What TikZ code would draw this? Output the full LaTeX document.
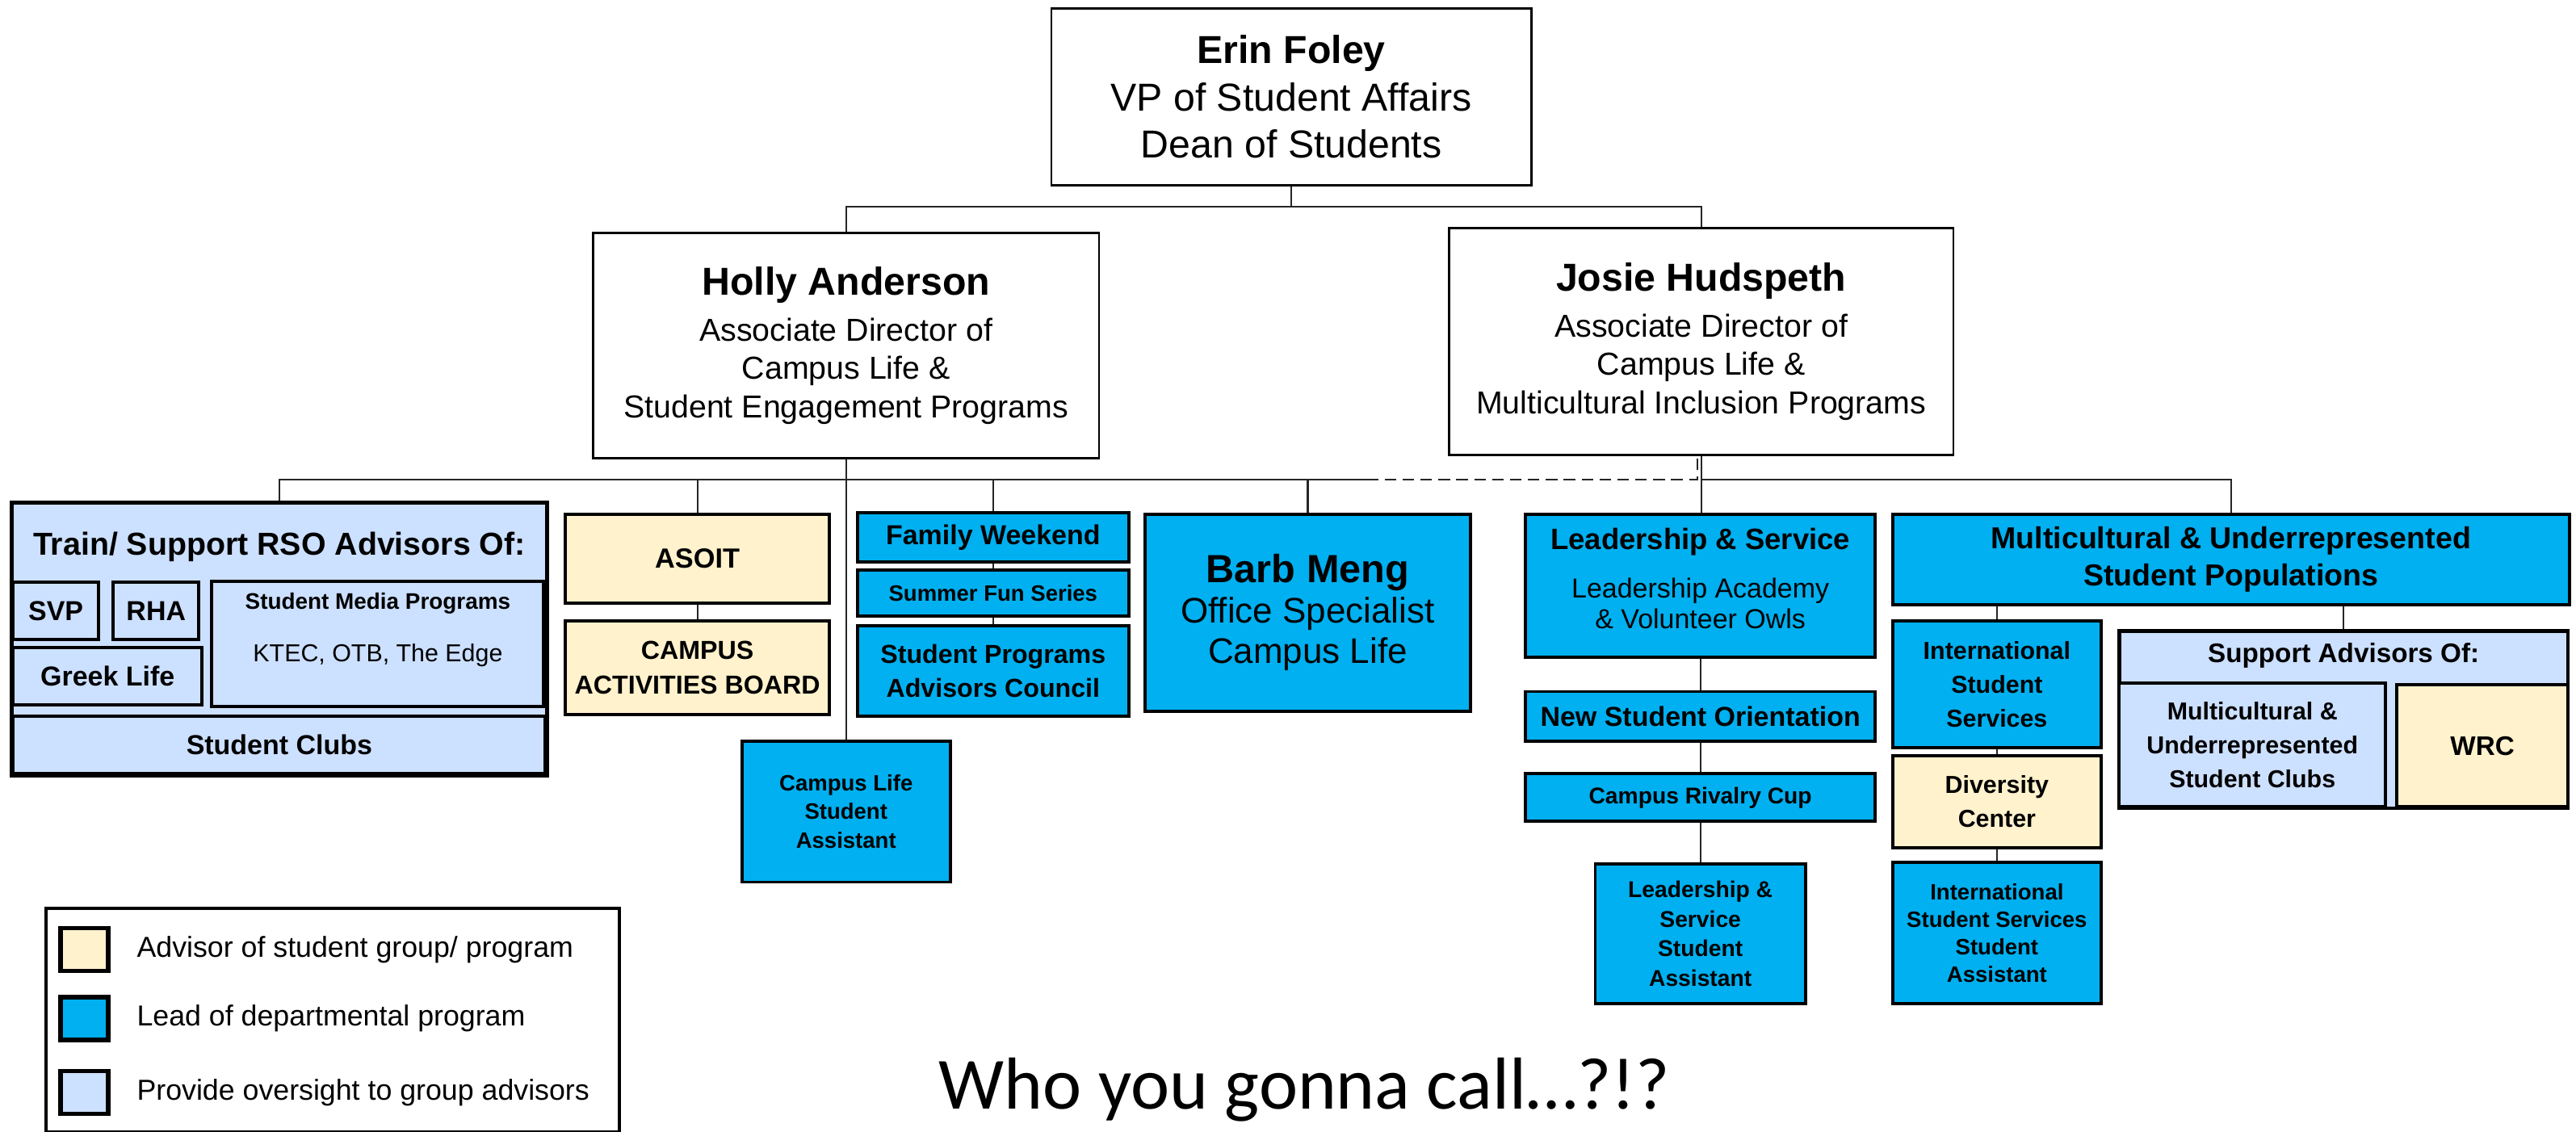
\documentclass[tikz,border=0pt]{standalone}
\usepackage{fontspec}
\setmainfont{Liberation Sans}
\newfontfamily\callfont{Carlito}
\usetikzlibrary{positioning, calc}
\definecolor{cblue}{HTML}{00B0F0}
\definecolor{cyellow}{HTML}{FFF2CC}
\definecolor{clight}{HTML}{CCE0FF}
\newcommand{\setfs}[2]{\fontsize{#1}{#2}\selectfont}

\begin{document}
\begin{tikzpicture}[
    x=0.02cm, y=-0.02cm,
    wh/.style 2 args={minimum width=#1*0.02cm, minimum height=#2*0.02cm},
    person/.style={draw=black, fill=white, line width=0.8pt, inner sep=0pt, align=center},
    lead/.style={draw=black, fill=cblue, line width=1.1pt, inner sep=0pt, align=center},
    advisor/.style={draw=black, fill=cyellow, line width=1.1pt, inner sep=0pt, align=center},
    oversee/.style={draw=black, fill=clight, line width=1.1pt, inner sep=0pt, align=center},
    swatch/.style={draw=black, line width=1.6pt, inner sep=0pt, wh={29}{26}},
    link/.style={draw=black!85, line width=0.6pt},
    dotrel/.style={link, dash pattern=on 4pt off 2.2pt}
]
\useasboundingbox (0,0) rectangle (1568,689);

%% Top of the chart
\node[person, wh={292}{108}, font=\setfs{13.5}{16.4}] (erin) at (786,59)
   {\textbf{Erin Foley}\\VP of Student Affairs\\Dean of Students};
\node[person, wh={308}{137}, font=\setfs{11}{13.3}] (holly) at (515,210.5)
   {{\setfs{13.5}{14}\bfseries Holly Anderson}\\[2.5pt]Associate Director of\\Campus Life \&\\Student Engagement Programs};
\node[person, wh={307}{138}, font=\setfs{11}{13.3}] (josie) at (1035.5,208)
   {{\setfs{13.5}{14}\bfseries Josie Hudspeth}\\[2.5pt]Associate Director of\\Campus Life \&\\Multicultural Inclusion Programs};

%% RSO advisors block
\node[oversee, wh={326}{166}, line width=1.3pt] (train) at (170,389) {};
\node[font=\setfs{11}{13}\bfseries] (traintitle) at (170,333) {Train/ Support RSO Advisors Of:};
\node[oversee, wh={52}{35}, font=\setfs{9.5}{11}\bfseries] (svp) at (34,372) {SVP};
\node[oversee, wh={52}{35}, font=\setfs{9.5}{11}\bfseries] (rha) at (95,372) {RHA};
\node[oversee, wh={115}{35}, font=\setfs{9.5}{11}\bfseries] (greek) at (65.5,411.5) {Greek Life};
\node[oversee, wh={202}{76}, text depth=11.5pt] (media) at (230,392)
   {{\setfs{7.8}{9}\bfseries Student Media Programs}\\[6pt]{\setfs{8.5}{10}KTEC, OTB, The Edge}};
\node[oversee, wh={324}{35}, font=\setfs{9.5}{11}\bfseries] (clubs) at (170,453.5) {Student Clubs};

%% Holly's programs
\node[advisor, wh={161}{54}, font=\setfs{9.6}{11}\bfseries] (asoit) at (424.5,340) {ASOIT};
\node[advisor, wh={161}{57}, font=\setfs{9}{11.9}\bfseries] (cab) at (424.5,406.5) {CAMPUS\\ACTIVITIES BOARD};
\node[lead, wh={165}{30}, font=\setfs{9.5}{11}\bfseries] (fw) at (604.5,327) {Family Weekend};
\node[lead, wh={165}{28}, font=\setfs{7.7}{9}\bfseries] (sfs) at (604.5,361) {Summer Fun Series};
\node[lead, wh={165}{55}, font=\setfs{9}{11.9}\bfseries] (spac) at (604.5,408.5) {Student Programs\\Advisors Council};
\node[lead, wh={127}{86}, font=\setfs{7.7}{10}\bfseries] (clsa) at (515,494) {Campus Life\\Student\\Assistant};
\node[lead, wh={198}{120}, font=\setfs{12.3}{14}] (barb) at (796,373)
   {{\setfs{13.6}{15}\bfseries Barb Meng}\\Office Specialist\\Campus Life};

%% Josie's programs
\node[lead, wh={213}{87}, font=\setfs{9.5}{10.8}, text depth=5pt] (ls) at (1035,356.5)
   {{\setfs{10.2}{12}\bfseries Leadership \& Service}\\[6pt]Leadership Academy\\\& Volunteer Owls};
\node[lead, wh={213}{30}, font=\setfs{9.5}{11}\bfseries] (nso) at (1035,436) {New Student Orientation};
\node[lead, wh={213}{29}, font=\setfs{7.9}{9}\bfseries] (crc) at (1035,485.5) {Campus Rivalry Cup};
\node[lead, wh={128}{85}, font=\setfs{7.9}{10.2}\bfseries] (lssa) at (1035,568.5) {Leadership \&\\Service\\Student\\Assistant};
\node[lead, wh={412}{55}, font=\setfs{10.5}{12.8}\bfseries] (musp) at (1358,340.5)
   {Multicultural \& Underrepresented\\Student Populations};
\node[lead, wh={127}{77}, font=\setfs{8.5}{11.7}\bfseries] (iss) at (1215.5,416.5) {International\\Student\\Services};
\node[advisor, wh={127}{56}, font=\setfs{8.5}{11.7}\bfseries] (dc) at (1215.5,488) {Diversity\\Center};
\node[lead, wh={127}{86}, font=\setfs{7.7}{9.5}\bfseries] (isssa) at (1215.5,568) {International\\Student Services\\Student\\Assistant};
\node[oversee, wh={273}{108}, line width=1.3pt] (sup) at (1426.5,438) {};
\node[font=\setfs{9.3}{11}\bfseries] (suptitle) at (1426.5,399) {Support Advisors Of:};
\node[oversee, wh={162}{75}, font=\setfs{8.5}{11.7}\bfseries] (musc) at (1371,453.5) {Multicultural \&\\Underrepresented\\Student Clubs};
\node[advisor, wh={104}{74}, font=\setfs{9.3}{11}\bfseries] (wrc) at (1511,454) {WRC};

%% Reporting lines
\coordinate (topbar) at (786,126);
\coordinate (hollybar) at (832,292);
\draw[link] (erin.south) -- (topbar);
\draw[link] (holly.north) |- (topbar) -| (josie.north);
\draw[link] (holly.south) -- (clsa.north);
\draw[link] (train.north) |- (hollybar);
\foreach \n in {asoit, fw, barb}
   \draw[link] (\n.north) -- (\n.north |- hollybar);
\draw[dotrel] (hollybar) -| ([xshift=-0.05cm]josie.south);
\draw[link] (josie.south) -- (josie.south |- ls.north);
\draw[link] (josie.south |- hollybar) -| (musp.north);
\draw[link] (asoit.south) -- (cab.north);
\draw[link] (fw.south) -- (sfs.north) (sfs.south) -- (spac.north);
\draw[link] (ls.south) -- (nso.north) (nso.south) -- (crc.north) (crc.south) -- (lssa.north);
\draw[link] (musp.south -| iss.north) -- (iss.north);
\draw[link] (iss.south) -- (dc.north) (dc.south) -- (isssa.north);
\draw[link] (musp.south -| sup.north) -- (sup.north);

%% Legend
\node[draw=black, line width=1.1pt, inner sep=0pt, wh={349}{136}] (legend) at (202.5,621) {};
\node[swatch, fill=cyellow] (keyadv) at (51.5,578) {};
\node[swatch, fill=cblue] (keylead) at (51.5,620) {};
\node[swatch, fill=clight] (keyover) at (51.5,665) {};
\node[anchor=west, inner sep=0pt, font=\setfs{10}{12}] (advtext) at (83,578) {Advisor of student group/ program};
\node[anchor=west, inner sep=0pt, font=\setfs{10}{12}] (leadtext) at (83,620) {Lead of departmental program};
\node[anchor=west, inner sep=0pt, font=\setfs{10}{12}] (overtext) at (83,665) {Provide oversight to group advisors};

\node[anchor=base west, inner sep=0pt, font=\callfont\setfs{25.5}{30}] (who) at (571,675) {Who you gonna call…?!?};

\end{tikzpicture}
\end{document}
